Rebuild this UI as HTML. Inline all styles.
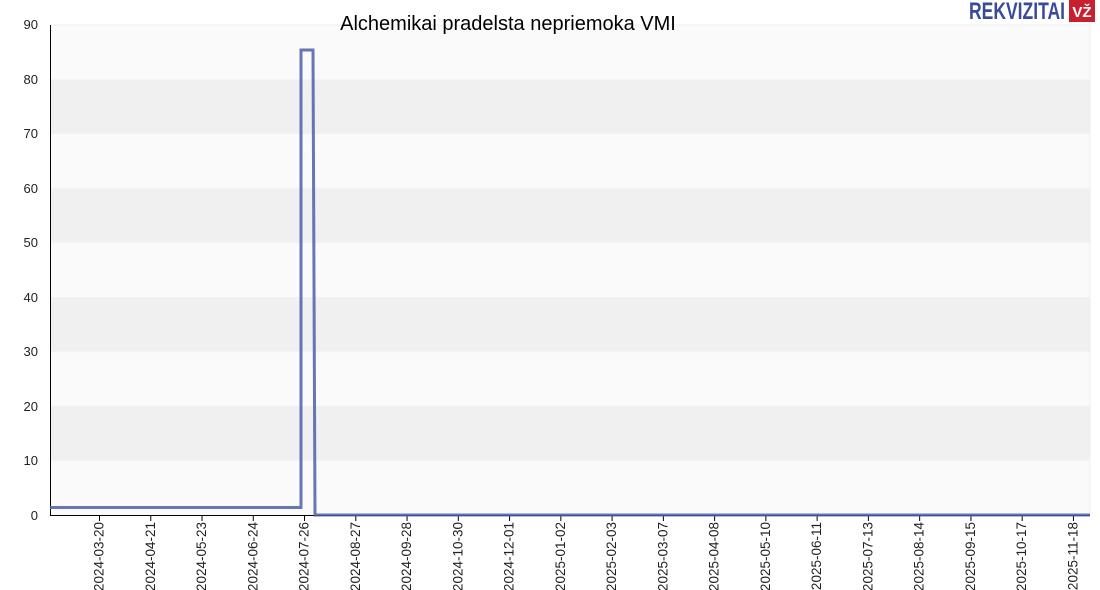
<!DOCTYPE html>
<html><head><meta charset="utf-8"><style>
body{margin:0;background:#fff;}
svg{display:block;font-family:"Liberation Sans",sans-serif;}
</style></head><body>
<svg width="1100" height="590" viewBox="0 0 1100 590">
<rect x="0" y="0" width="1100" height="590" fill="#fff"/>
<rect x="50" y="25" width="1040" height="490" fill="#fafafa"/>
<g fill="#f0f0f0">
<rect x="50" y="79.4" width="1040" height="54.4"/>
<rect x="50" y="188.3" width="1040" height="54.4"/>
<rect x="50" y="297.2" width="1040" height="54.4"/>
<rect x="50" y="406.1" width="1040" height="54.4"/>
</g>
<line x1="50" y1="25" x2="1090" y2="25" stroke="#eee"/>
<line x1="1090" y1="25" x2="1090" y2="515" stroke="#eee"/>
<line x1="50.5" y1="25" x2="50.5" y2="516" stroke="#000"/>
<line x1="50" y1="515.5" x2="1090" y2="515.5" stroke="#000"/>
<g font-size="13" fill="#222" text-anchor="end">
<text x="38" y="520">0</text><text x="38" y="465">10</text><text x="38" y="411">20</text>
<text x="38" y="356">30</text><text x="38" y="302">40</text><text x="38" y="247">50</text>
<text x="38" y="193">60</text><text x="38" y="138">70</text><text x="38" y="84">80</text>
<text x="38" y="29">90</text>
</g>
<g id="ticks" stroke="#000"></g>
<g id="labels" font-size="13.5" fill="#222"></g>
<polyline fill="none" stroke="#4a5fa8" stroke-width="3" stroke-opacity="0.85" points="50,507.5 301,507.5 301,50 313,50 315,515 1090,515"/>
<text x="508" y="30" font-size="20" text-anchor="middle" fill="#000">Alchemikai pradelsta nepriemoka VMI</text>
<text x="969" y="19" font-size="24" font-weight="bold" fill="#3a4a9a" textLength="96" lengthAdjust="spacingAndGlyphs">REKVIZITAI</text>
<rect x="1069" y="0" width="26" height="22" fill="#c8202f"/>
<text x="1082" y="17" font-size="15" font-weight="bold" fill="#fff" text-anchor="middle">VŽ</text>
</svg>
<script>
var d=["2024-03-20","2024-04-21","2024-05-23","2024-06-24","2024-07-26","2024-08-27","2024-09-28","2024-10-30","2024-12-01","2025-01-02","2025-02-03","2025-03-07","2025-04-08","2025-05-10","2025-06-11","2025-07-13","2025-08-14","2025-09-15","2025-10-17","2025-11-18"];
var t=document.getElementById('ticks'),l=document.getElementById('labels'),ns="http://www.w3.org/2000/svg";
d.forEach(function(s,i){var x=99.5+i*51.26;
var ln=document.createElementNS(ns,'line');ln.setAttribute('x1',x);ln.setAttribute('x2',x);ln.setAttribute('y1',515);ln.setAttribute('y2',521);t.appendChild(ln);
var tx=document.createElementNS(ns,'text');tx.setAttribute('transform','translate('+(x+4)+',522) rotate(-90)');tx.setAttribute('text-anchor','end');tx.textContent=s;l.appendChild(tx);});
</script>
</body></html>
